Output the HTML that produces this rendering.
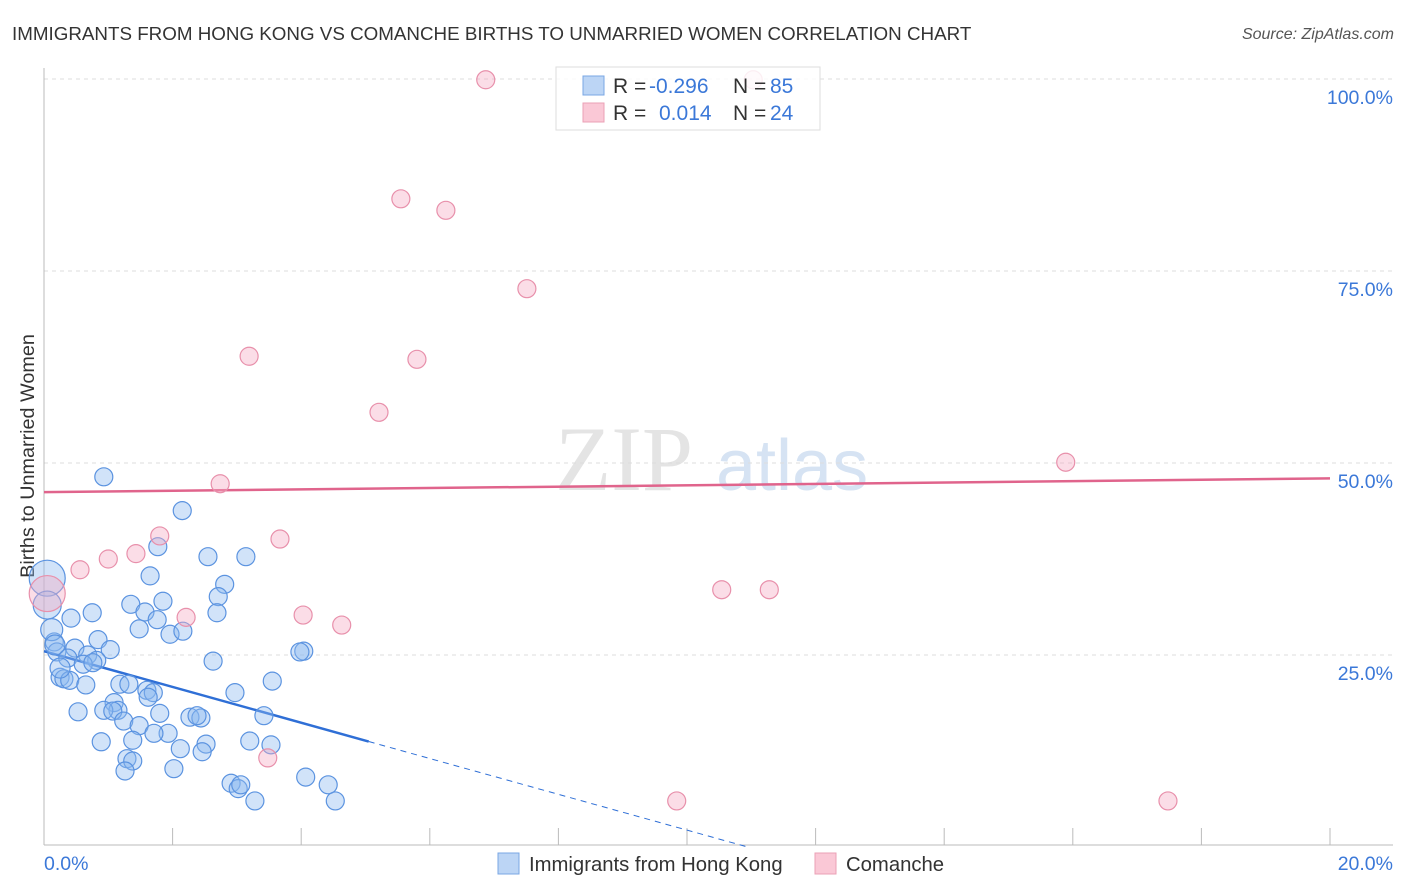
<!DOCTYPE html>
<html><head><meta charset="utf-8"><style>
body{margin:0;background:#fff;font-family:"Liberation Sans",sans-serif}
svg{display:block}
</style></head><body>
<svg id="chart" width="1406" height="892" xmlns="http://www.w3.org/2000/svg">
<text x="12" y="40" font-size="18.8" fill="#333">IMMIGRANTS FROM HONG KONG VS COMANCHE BIRTHS TO UNMARRIED WOMEN CORRELATION CHART</text>
<text x="1394" y="39" font-size="16" fill="#555" text-anchor="end" font-style="italic">Source: ZipAtlas.com</text>
<text x="34" y="456" font-size="19.8" fill="#333" text-anchor="middle" transform="rotate(-90 34 456)">Births to Unmarried Women</text>
<g><text x="555" y="490" font-size="92" font-family="Liberation Serif,serif" fill="#e4e4e4">ZIP</text><text x="716" y="490" font-size="72" fill="#d6e3f3">atlas</text></g>
<g id="grid"></g><g id="axes"></g><g id="trend"></g><g id="pts"></g>
<g>
<rect x="556" y="67" width="264" height="63" fill="rgba(255,255,255,0.85)" stroke="#ddd"/>
<rect x="583" y="76" width="21" height="19" fill="#bcd5f5" stroke="#7aa7e4"/>
<rect x="583" y="103" width="21" height="19" fill="#fac8d6" stroke="#eba0b6"/>
<text x="613" y="93" font-size="21" fill="#333">R = </text><text x="649" y="93" font-size="21" fill="#3b78d8">-0.296</text>
<text x="733" y="93" font-size="21" fill="#333">N = </text><text x="770" y="93" font-size="21" fill="#3b78d8">85</text>
<text x="613" y="120" font-size="21" fill="#333">R = </text><text x="659" y="120" font-size="21" fill="#3b78d8">0.014</text>
<text x="733" y="120" font-size="21" fill="#333">N = </text><text x="770" y="120" font-size="21" fill="#3b78d8">24</text>
</g>
<g>
<rect x="498" y="853" width="21" height="21" fill="#bcd5f5" stroke="#7aa7e4"/>
<text x="529" y="871" font-size="20.3" fill="#333">Immigrants from Hong Kong</text>
<rect x="815" y="853" width="21" height="21" fill="#fac8d6" stroke="#eba0b6"/>
<text x="846" y="871" font-size="20.3" fill="#333">Comanche</text>
</g>
</svg>
<script>
const yTicks=[25,50,75,100];
const yTickLabels=["25.0%","50.0%","75.0%","100.0%"];
const xTickLabels=["0.0%","20.0%"];
const blueX=[0.93,2.15,1.77,2.55,3.14,1.65,2.81,1.35,1.85,2.71,1.57,0.75,0.42,1.76,2.69,1.48,1.96,2.16,0.84,0.16,1.03,4.04,3.98,0.20,0.48,0.68,0.37,0.82,2.63,0.61,0.76,0.25,0.31,0.40,0.65,1.18,1.32,3.55,2.97,1.60,1.70,1.62,1.09,1.15,0.93,1.07,1.80,0.53,2.27,2.44,2.38,3.42,1.24,1.48,1.93,1.71,1.38,0.89,2.52,3.20,3.53,2.12,1.29,1.38,2.46,2.02,1.26,2.91,3.02,3.06,3.28,4.07,4.42,4.53,0.12,0.17,0.25,0.05,0.05];
const blueY=[48.2,43.8,39.1,37.8,37.8,35.3,34.2,31.6,32.0,32.6,30.6,30.5,29.8,29.6,30.5,28.4,27.7,28.1,27.0,26.7,25.7,25.5,25.4,25.4,25.9,25.0,24.6,24.3,24.2,23.8,24.0,22.1,21.9,21.7,21.1,21.2,21.2,21.6,20.1,20.4,20.1,19.5,18.8,17.8,17.8,17.7,17.4,17.6,16.9,16.8,17.1,17.1,16.4,15.8,14.8,14.8,13.9,13.7,13.4,13.8,13.3,12.8,11.5,11.2,12.4,10.2,9.9,8.3,7.6,8.1,6.0,9.1,8.1,6.0,28.3,26.3,23.3,35.0,31.5];
const blueR=[9,9,9,9,9,9,9,9,9,9,9,9,9,9,9,9,9,9,9,9,9,9,9,9,9,9,9,9,9,9,9,9,9,9,9,9,9,9,9,9,9,9,9,9,9,9,9,9,9,9,9,9,9,9,9,9,9,9,9,9,9,9,9,9,9,9,9,9,9,9,9,9,9,9,11,10,10,18,14];
const pinkX=[6.87,11.03,5.55,6.25,7.51,3.19,5.80,5.21,15.89,2.74,1.80,3.67,1.00,1.43,0.56,2.21,4.03,4.63,10.54,11.28,3.48,9.84,17.48,0.05];
const pinkY=[99.9,99.9,84.4,82.9,72.7,63.9,63.5,56.6,50.1,47.3,40.5,40.1,37.5,38.2,36.1,29.9,30.2,28.9,33.5,33.5,11.6,6.0,6.0,33.0];
const pinkR=[9,9,9,9,9,9,9,9,9,9,9,9,9,9,9,9,9,9,9,9,9,9,9,18];
const blueTrend=[25.5,-2.33]; // intercept, slope per %
const blueSolidEnd=5.05;
const pinkTrend=[46.2,48.0]; // at x=0 and x=20
const NS="http://www.w3.org/2000/svg";
const xs=v=>44+v*64.3, ys=v=>847-v*7.68;
function mk(t,a,p){const e=document.createElementNS(NS,t);for(const k in a)e.setAttribute(k,a[k]);p.appendChild(e);return e;}
const grid=document.getElementById('grid'),axes=document.getElementById('axes');
yTicks.forEach((t,i)=>{
 const l=mk('line',{x1:44,x2:1393,y1:ys(t),y2:ys(t),stroke:'#ddd','stroke-dasharray':'4,4'},grid);
 
 
 const tx=mk('text',{x:1393,y:ys(t)+25,'font-size':19.5,fill:'#3b78d8','text-anchor':'end'},axes);
 tx.textContent=yTickLabels[i];
 
 
});
mk('line',{x1:44,x2:44,y1:68,y2:845,stroke:'#bbb'},axes);
const xa=mk('line',{x1:44,x2:1393,y1:845,y2:845,stroke:'#bbb'},axes);


for(let v=2;v<=20;v+=2){const tk=mk('line',{x1:xs(v),x2:xs(v),y1:828,y2:845,stroke:'#bbb'},axes);
 
 }
[[0,'start',44],[20,'end',1393]].forEach((d,i)=>{const t=mk('text',{x:d[2],y:870,'font-size':19.5,fill:'#3b78d8','text-anchor':d[1]},axes);t.textContent=xTickLabels[i];
 
 });
const pts=document.getElementById('pts');
function dots(X,Y,R,fill,stroke,name){X.forEach((x,i)=>{const c=mk('circle',{cx:xs(x),cy:ys(Y[i]),r:R[i],fill:fill,stroke:stroke,'stroke-width':1.2},pts);
 
 });}
dots(blueX,blueY,blueR,'rgba(140,185,240,0.4)','#5b93e0','hong-kong-point');
dots(pinkX,pinkY,pinkR,'rgba(245,170,195,0.4)','#e890ab','comanche-point');
const tr=document.getElementById('trend');
const xEnd=-blueTrend[0]/blueTrend[1];
const b1=mk('line',{x1:xs(0),y1:ys(blueTrend[0]),x2:xs(blueSolidEnd),y2:ys(blueTrend[0]+blueTrend[1]*blueSolidEnd),stroke:'#2f6fd6','stroke-width':2.5},tr);


const b2=mk('line',{x1:xs(blueSolidEnd),y1:ys(blueTrend[0]+blueTrend[1]*blueSolidEnd),x2:xs(xEnd),y2:ys(0),stroke:'#2f6fd6','stroke-width':1,'stroke-dasharray':'6,5'},tr);


const p1=mk('line',{x1:xs(0),y1:ys(pinkTrend[0]),x2:xs(20),y2:ys(pinkTrend[1]),stroke:'#e0648c','stroke-width':2.5},tr);


</script>
</body></html>
